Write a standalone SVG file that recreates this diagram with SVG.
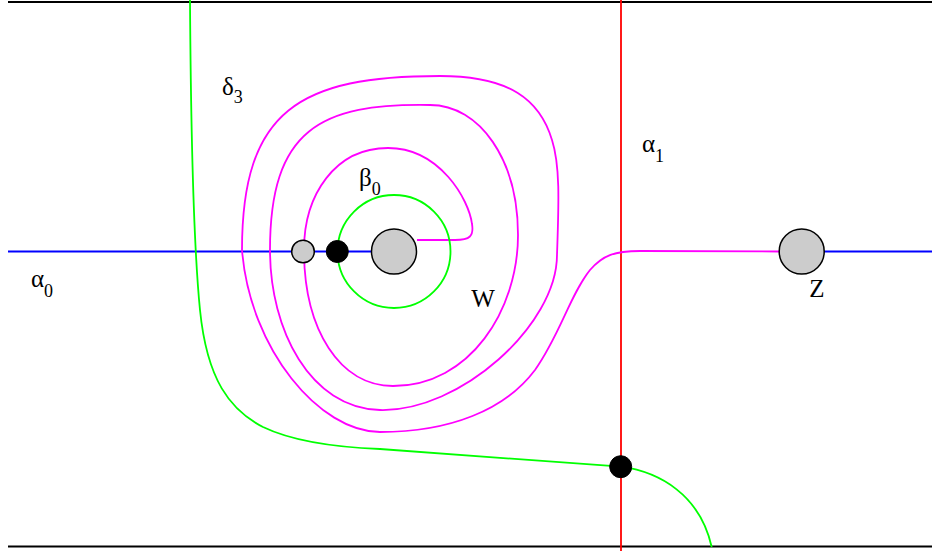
<svg xmlns="http://www.w3.org/2000/svg" width="932" height="551" viewBox="0 0 932 551">
<style>
.frame{stroke:#000;stroke-width:2;fill:none}
.blue{stroke:#0000ff;stroke-width:1.8;fill:none}
.red{stroke:#ff0000;stroke-width:1.8;fill:none}
.green{stroke:#00ff00;stroke-width:1.8;fill:none}
.mag{stroke:#ff00ff;stroke-width:1.8;fill:none}
.puncture{fill:#cccccc;stroke:#000;stroke-width:1.5}
.dot{fill:#000;stroke:#000;stroke-width:1}
.lbl{font-family:"Liberation Serif","Times New Roman",serif;font-size:25px;fill:#000}
.sub{font-size:18px}
</style>
<rect width="932" height="551" fill="#fff"/>
<g id="connectors">
<line class="frame" x1="8" y1="2" x2="932" y2="2"/>
<line class="frame" x1="8" y1="546.5" x2="932" y2="546.5"/>
<line class="blue" x1="8" y1="251.5" x2="372" y2="251.5"/>
<line class="blue" x1="824" y1="251.5" x2="932" y2="251.5"/>
<line class="red" x1="621" y1="0" x2="621" y2="551"/>
<path class="green" d="M190,0 C191,150 194,250 200,310 C207,380 230,410 263,427 C290,440 330,447 380,449 L621,466.7 C660,472 700,495 711.7,547"/>
<path class="mag" d="M417,240 L455,240 C470,240 474,236 472,224 C469,200 440,148 388,148 C335,148 304,195 304,250 C304,330 340,386 393,386 C470,386 518,310 518,235 C518,160 480,105 430,105 C320,103 270,130 270,250 C270,330 310,408 380,410 C460,412 557,325 557,255 C559,200 560,165 552,140 C540,100 510,76 440,76 C300,76 242,110 242,250 C250,350 320,432 380,432 C450,432 505,410 535,370 C560,335 570,295 590,270 C603,255 615,251 640,251 L779,251.5"/>
</g>
<g id="beta0"><circle class="green" cx="394" cy="251.5" r="56.5"/></g>
<g id="w-puncture"><circle class="puncture" cx="394" cy="251.5" r="22.5"/></g>
<g id="small-puncture"><circle class="puncture" cx="303" cy="251.5" r="11.3"/></g>
<g id="black-dot-1"><circle class="dot" cx="337.3" cy="251.5" r="11"/></g>
<g id="black-dot-2"><circle class="dot" cx="620.7" cy="466.7" r="11"/></g>
<g id="z-puncture"><circle class="puncture" cx="801.7" cy="251.5" r="22.5"/></g>
<g id="labels">
<text class="lbl" x="31" y="287">α<tspan class="sub" dy="10">0</tspan></text>
<text class="lbl" x="642" y="152">α<tspan class="sub" dy="10">1</tspan></text>
<text class="lbl" x="222" y="95">δ<tspan class="sub" dy="8">3</tspan></text>
<text class="lbl" x="359" y="186">β<tspan class="sub" dy="9">0</tspan></text>
<text class="lbl" x="483" y="307" text-anchor="middle">W</text>
<text class="lbl" x="817" y="297" text-anchor="middle">Z</text>
</g>
</svg>
